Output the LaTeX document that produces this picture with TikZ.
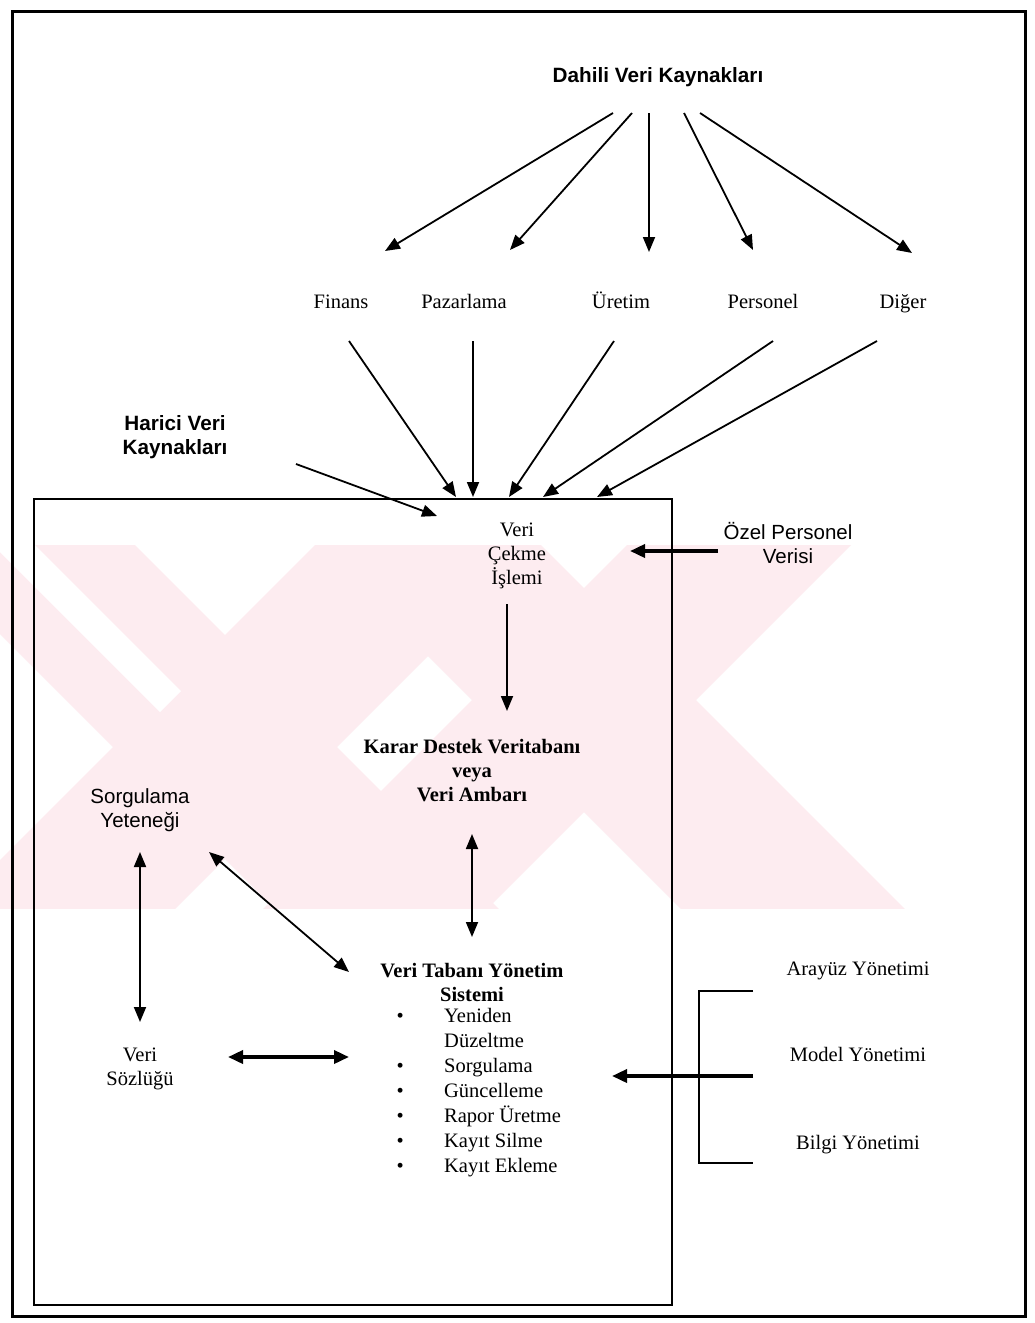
\documentclass[tikz,border=0pt]{standalone}
\usepackage{fontspec}
\setmainfont{Liberation Serif}
\setsansfont{Liberation Sans}
\usetikzlibrary{arrows.meta}
\definecolor{wm}{RGB}{253,236,240}
\begin{document}
\begin{tikzpicture}[x=1pt,y=-1pt,
  lblsansb/.style={font=\sffamily\bfseries\fontsize{20.7}{24}\selectfont,align=center,inner sep=0pt},
  lblsans/.style={font=\sffamily\fontsize{20.5}{24}\selectfont,align=center,inner sep=0pt},
  lblser/.style={font=\fontsize{20.5}{24}\selectfont,align=center,inner sep=0pt},
  lblserb/.style={font=\bfseries\fontsize{20.5}{24}\selectfont,align=center,inner sep=0pt},
  arr/.style={line width=1.8pt,-{Triangle[length=15pt,width=12pt]}},
  darr/.style={line width=1.8pt,{Triangle[length=15pt,width=12pt]}-{Triangle[length=15pt,width=12pt]}},
  tarr/.style={line width=3.5pt,-{Triangle[length=15pt,width=13pt]}},
  tdarr/.style={line width=3.5pt,{Triangle[length=15pt,width=13pt]}-{Triangle[length=15pt,width=13pt]}},
  plain/.style={line width=1.8pt}]
\useasboundingbox (0,0) rectangle (1034,1323);
\fill[white] (0,0) rectangle (1034,1323);
% watermark: two X shapes
\begin{scope}
\clip (0,545) rectangle (910,908);
\foreach \cx/\cy in {225/747,584/700}{
  \fill[wm] (\cx-112-400,\cy-400)--(\cx+112-400,\cy-400)--(\cx+112+400,\cy+400)--(\cx-112+400,\cy+400)--cycle;
  \fill[wm] (\cx-112+400,\cy-400)--(\cx+112+400,\cy-400)--(\cx+112-400,\cy+400)--(\cx-112-400,\cy+400)--cycle;
}
\fill[white] (-7,545)--(35,545)--(181,691)--(160,712)--cycle;
\end{scope}
% frames
\draw[line width=3pt] (12,11) rectangle (1025,1316);
\draw[line width=2pt] (34,499) rectangle (672,1305);
% texts
\node[lblsansb] (dahili) at (658,77) {Dahili Veri Kaynakları};
\node[lblser,text height=14pt,text depth=4pt] (finans) at (341,303) {Finans};
\node[lblser,text height=14pt,text depth=4pt] (pazar) at (464,303) {Pazarlama};
\node[lblser,text height=14pt,text depth=4pt] (uretim) at (621,303) {Üretim};
\node[lblser,text height=14pt,text depth=4pt] (personel) at (763,303) {Personel};
\node[lblser,text height=14pt,text depth=4pt] (diger) at (903,303) {Diğer};
\node[lblsansb] (harici) at (175,437) {Harici Veri\\Kaynakları};
\node[lblser] (cekme) at (517,556) {Veri\\Çekme\\İşlemi};
\node[lblsans] (ozel) at (788,543) {Özel Personel\\Verisi};
\node[lblserb] (karar) at (472,771) {Karar Destek Veritabanı\\veya\\Veri Ambarı};
\node[lblsans] (sorg) at (140,810) {Sorgulama\\Yeteneği};
\node[lblserb] (vtys) at (472,982) {Veri Tabanı Yönetim\\Sistemi};
\node[inner sep=0pt,anchor=north west,font=\fontsize{20.5}{25}\selectfont] (liste) at (396.5,1005)
 {\begin{tabular}{@{}p{47.5pt}@{}l@{}}
 \textbullet & Yeniden\\
  & Düzeltme\\
 \textbullet & Sorgulama\\
 \textbullet & Güncelleme\\
 \textbullet & Rapor Üretme\\
 \textbullet & Kayıt Silme\\
 \textbullet & Kayıt Ekleme
 \end{tabular}};
\node[lblser] (sozluk) at (140,1069) {Veri\\Sözlüğü};
\node[lblser,text height=14pt,text depth=4pt] (arayuz) at (858,970) {Arayüz Yönetimi};
\node[lblser,text height=14pt,text depth=4pt] (model) at (858,1056) {Model Yönetimi};
\node[lblser,text height=14pt,text depth=4pt] (bilgi) at (858,1144) {Bilgi Yönetimi};
% coordinates
\coordinate (d1s) at (613,113); \coordinate (d1e) at (385,251);
\coordinate (d2s) at (632,113); \coordinate (d2e) at (510,250);
\coordinate (d3s) at (649,113); \coordinate (d3e) at (649,252);
\coordinate (d4s) at (684,113); \coordinate (d4e) at (753,250);
\coordinate (d5s) at (700,113); \coordinate (d5e) at (912,253);
\coordinate (fs) at (349,341); \coordinate (fe) at (456,497);
\coordinate (ps) at (473,341); \coordinate (pe) at (473,497);
\coordinate (us) at (614,341); \coordinate (ue) at (509,497);
\coordinate (pes) at (773,341); \coordinate (pee) at (543,497);
\coordinate (dis) at (877,341); \coordinate (die) at (597,497);
\coordinate (hs) at (296,464); \coordinate (he) at (437,516);
\coordinate (ozs) at (718,551); \coordinate (oze) at (630,551);
\coordinate (vcs) at (507,604); \coordinate (vce) at (507,711);
\coordinate (kvs) at (472,834); \coordinate (kve) at (472,937);
\coordinate (sys) at (140,852); \coordinate (sye) at (140,1022);
\coordinate (sds) at (209,852); \coordinate (sde) at (349,972);
\coordinate (vss) at (228,1057); \coordinate (vse) at (349,1057);
\coordinate (bt) at (699,991); \coordinate (bb) at (699,1163);
\coordinate (btr) at (753,991); \coordinate (bbr) at (753,1163);
\coordinate (bms) at (753,1076); \coordinate (bme) at (612,1076);
% arrows
\draw[arr] (d1s) -- (d1e);
\draw[arr] (d2s) -- (d2e);
\draw[arr] (d3s) -- (d3e);
\draw[arr] (d4s) -- (d4e);
\draw[arr] (d5s) -- (d5e);
\draw[arr] (fs) -- (fe);
\draw[arr] (ps) -- (pe);
\draw[arr] (us) -- (ue);
\draw[arr] (pes) -- (pee);
\draw[arr] (dis) -- (die);
\draw[arr] (hs) -- (he);
\draw[tarr] (ozs) -- (oze);
\draw[arr] (vcs) -- (vce);
\draw[darr] (kvs) -- (kve);
\draw[darr] (sys) -- (sye);
\draw[darr] (sds) -- (sde);
\draw[tdarr] (vss) -- (vse);
\draw[plain] (btr) -- (bt) -- (bb) -- (bbr);
\draw[tarr] (bms) -- (bme);
\end{tikzpicture}
\end{document}
